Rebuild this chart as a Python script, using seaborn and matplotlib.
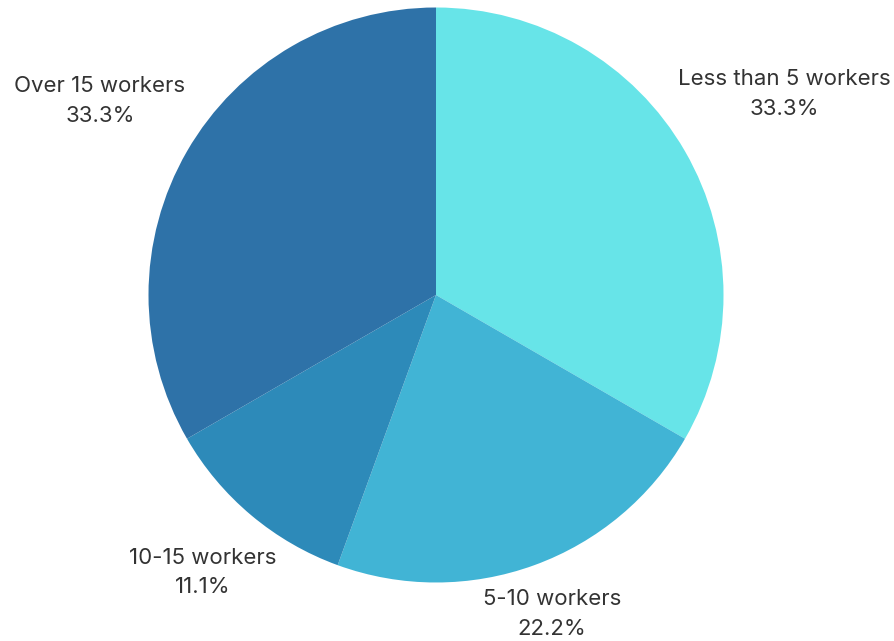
import matplotlib
matplotlib.use("Agg")
import matplotlib.pyplot as plt
import seaborn as sns
import numpy as np

sns.set_theme(style="white")
plt.rcParams['font.family'] = ['Inter', 'DejaVu Sans']

categories = ["Less than 5 workers", "5-10 workers", "10-15 workers", "Over 15 workers"]
percent = [33.3, 22.2, 11.1, 33.3]
colors = ["#67E4E8", "#41B4D5", "#2D8AB9", "#2E72A8"]
label_dist = [1.40, 1.18, 1.26, 1.35]

W, H = 894, 641
fig = plt.figure(figsize=(W / 100, H / 100), dpi=100)
cx, cy, r = 436, 295, 287.5
ax = fig.add_axes([(cx - r) / W, (H - cy - r) / H, 2 * r / W, 2 * r / H])

wedges, _ = ax.pie(percent, colors=colors, startangle=90, counterclock=False,
                   radius=1, wedgeprops=dict(linewidth=0))
for w, cat, p, d in zip(wedges, categories, percent, label_dist):
    ang = np.deg2rad((w.theta1 + w.theta2) / 2)
    ax.text(d * np.cos(ang), d * np.sin(ang), f"{cat}\n{p:.1f}%",
            ha="center", va="center", fontsize=16, color="#333333",
            linespacing=1.6)
ax.set_xlim(-1, 1)
ax.set_ylim(-1, 1)
ax.set_aspect("equal")
ax.axis("off")
fig.savefig("out.png", dpi=100, facecolor="white")
